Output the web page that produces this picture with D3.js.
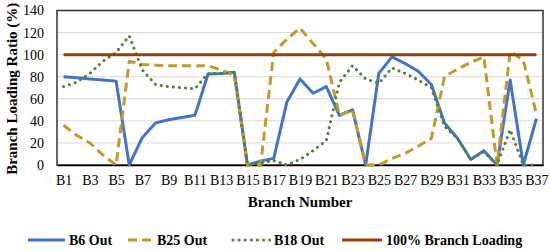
<!DOCTYPE html>
<html>
<head>
<meta charset="utf-8">
<script src="https://cdn.jsdelivr.net/npm/d3@7"></script>
<style>
  body { margin: 0; background: #fff; }
  svg { display: block; font-family: "Liberation Serif", "Times New Roman", serif; }
</style>
</head>
<body>
<svg id="chart" width="550" height="251"></svg>
<script>
const branches = ["B1","B2","B3","B4","B5","B6","B7","B8","B9","B10","B11","B12","B13",
  "B14","B15","B16","B17","B18","B19","B20","B21","B22","B23","B24","B25","B26",
  "B27","B28","B29","B30","B31","B32","B33","B34","B35","B36","B37"];

const b6Out = [80,79,78,77,76,0,25,38,41,43,45,82.5,83,84,0,3.5,6,57,78,65,71,45,50,0,
  83,98,92,85,73,38,24,5,13,0,77,0,42];
const b25Out = [36,27,20,9,0,94,91,90.5,90,90,90,90,86,81,0,0,102,114,124,110,96,45,50,0,
  0,6,10.5,17,24,80,87,93,98,0,103,95,46];
const b18Out = [71,75,83,94,102,117,86,73,71,70,69,83,83,84,0,2,4,0,5,13,22,75,90,78,
  74,88,83,77,70,35,24,5,12,0,32,0,0];
const fullLoading = [100,100,100,100,100,100,100,100,100,100,100,100,100,100,100,100,100,
  100,100,100,100,100,100,100,100,100,100,100,100,100,100,100,100,100,100,100,100];

const yTicks = [0,20,40,60,80,100,120,140];

const series = [
  {name: "B6 Out", values: b6Out, color: "#4472C4", dash: null, cap: "butt"},
  {name: "B25 Out", values: b25Out, color: "#C09A2E", dash: "9,5", cap: "butt"},
  {name: "B18 Out", values: b18Out, color: "#548235", dash: "0.1,6", cap: "round"},
  {name: "100% Branch Loading", values: fullLoading, color: "#993d0d", dash: null, cap: "butt"}
];

const margin = {top: 10.5, right: 7, bottom: 86, left: 57};
const width = 550, height = 251;

const svg = d3.select("#chart");

const x = d3.scalePoint()
    .domain(branches)
    .range([margin.left, width - margin.right])
    .padding(0.5);

const y = d3.scaleLinear()
    .domain([0, 140])
    .range([height - margin.bottom, margin.top]);

// gridlines
svg.append("g")
    .selectAll("line")
    .data(yTicks.slice(1))
  .enter().append("line")
    .attr("x1", margin.left)
    .attr("x2", width - margin.right)
    .attr("y1", d => y(d))
    .attr("y2", d => y(d))
    .attr("stroke", "#d9d9d9")
    .attr("stroke-width", 1);

// frame
svg.append("rect")
    .attr("x", margin.left)
    .attr("y", y(140))
    .attr("width", width - margin.right - margin.left)
    .attr("height", y(0) - y(140))
    .attr("fill", "none")
    .attr("stroke", "#333")
    .attr("stroke-width", 1.5);

// y axis
svg.append("g")
    .attr("transform", `translate(${margin.left},0)`)
    .call(d3.axisLeft(y).tickValues(yTicks).tickSize(0).tickPadding(13))
    .call(g => g.select(".domain").remove())
    .call(g => g.selectAll("text")
        .attr("fill", "#000")
        .style("font-size", "14px")
        .style("font-family", "Liberation Serif, serif"));

// x axis
svg.append("g")
    .attr("transform", `translate(0,${y(0)})`)
    .call(d3.axisBottom(x).tickSize(0).tickPadding(10)
        .tickFormat((d, i) => i % 2 === 0 ? d : ""))
    .call(g => g.select(".domain").attr("stroke", "#000").attr("stroke-width", 1.5))
    .call(g => g.selectAll("text")
        .attr("fill", "#000")
        .style("font-size", "14px")
        .style("font-family", "Liberation Serif, serif"));

const line = d3.line()
    .x((d, i) => x(branches[i]))
    .y(d => y(d));

svg.append("g")
    .selectAll("path")
    .data(series)
  .enter().append("path")
    .attr("d", d => line(d.values))
    .attr("fill", "none")
    .attr("stroke", d => d.color)
    .attr("stroke-width", 3)
    .attr("stroke-linejoin", "round")
    .attr("stroke-linecap", d => d.cap)
    .attr("stroke-dasharray", d => d.dash);

// axis titles
svg.append("text")
    .attr("transform", `translate(17,${(y(0) + y(140)) / 2 + 1}) rotate(-90)`)
    .attr("text-anchor", "middle")
    .style("font-size", "15px")
    .style("font-weight", "bold")
    .text("Branch Loading Ratio (%)");

svg.append("text")
    .attr("x", 300)
    .attr("y", 207)
    .attr("text-anchor", "middle")
    .style("font-size", "15px")
    .style("font-weight", "bold")
    .text("Branch Number");

// legend
const legendX = [28, 128, 233, 342];
const legendLen = [37, 25, 37, 40];
const legend = svg.append("g")
    .selectAll("g")
    .data(series)
  .enter().append("g")
    .attr("transform", (d, i) => `translate(${legendX[i]},240)`);

legend.append("line")
    .attr("x1", 0)
    .attr("x2", (d, i) => legendLen[i])
    .attr("stroke", d => d.color)
    .attr("stroke-width", 3)
    .attr("stroke-linecap", d => d.cap)
    .attr("stroke-dasharray", d => d.dash);

legend.append("text")
    .attr("x", (d, i) => legendLen[i] + 4)
    .attr("dy", "0.35em")
    .style("font-size", "14px")
    .style("font-weight", "bold")
    .text(d => d.name);
</script>
</body>
</html>
